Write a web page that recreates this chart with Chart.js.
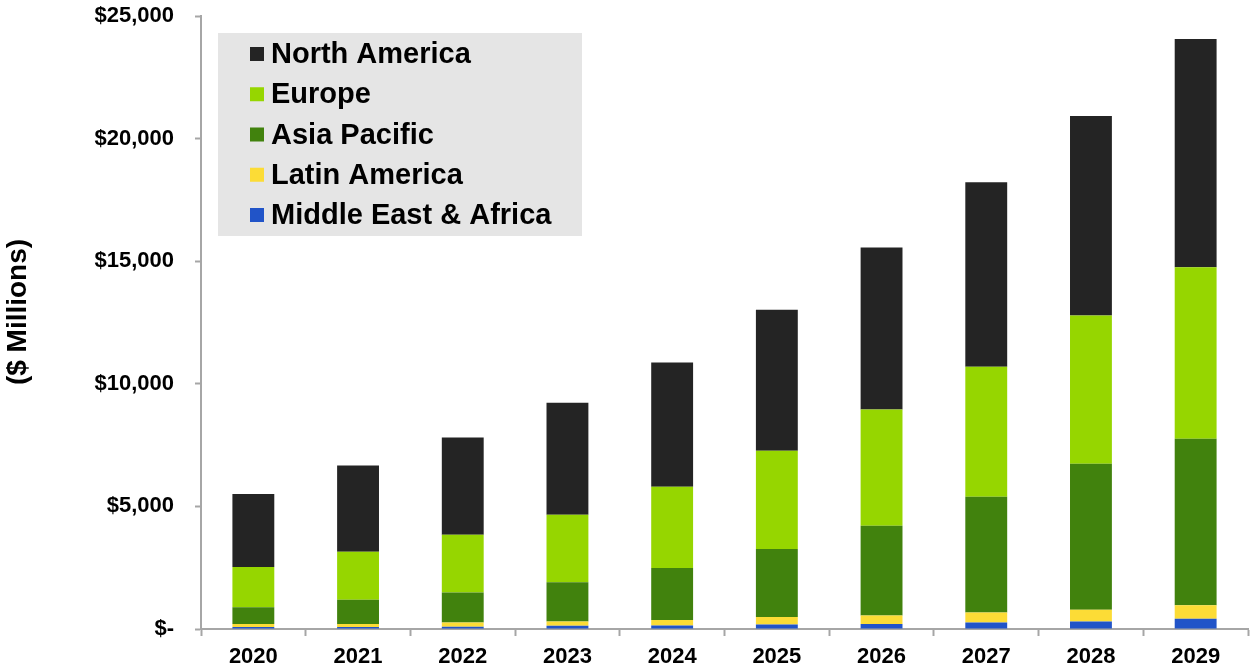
<!DOCTYPE html>
<html>
<head>
<meta charset="utf-8">
<script src="https://cdn.jsdelivr.net/npm/chart.js@4/dist/chart.umd.min.js"></script>
<style>
html,body{margin:0;padding:0;background:#fff;}
#wrap{width:1250px;height:669px;position:relative;}
</style>
</head>
<body>
<div id="wrap"><canvas id="c"></canvas></div>
<script>
const years = ['2020','2021','2022','2023','2024','2025','2026','2027','2028','2029'];
const middleEastAfrica = [80, 85, 95, 130, 140, 185, 200, 260, 310, 420];
const latinAmerica     = [120, 120, 170, 180, 230, 300, 350, 410, 480, 550];
const asiaPacific      = [685, 985, 1220, 1595, 2120, 2780, 3660, 4720, 5950, 6790];
const europe           = [1645, 1965, 2360, 2755, 3310, 4000, 4740, 5310, 6050, 6990];
const northAmerica     = [2980, 3510, 3960, 4570, 5070, 5760, 6610, 7520, 8130, 9310];
const yTicks = [0, 5000, 10000, 15000, 20000, 25000];
const yTitle = '($ Millions)';

const FONT = "'Liberation Sans', Arial, sans-serif";

const legendBox = {
  id: 'legendBox',
  afterDraw(chart) {
    const ctx = chart.ctx;
    const ca = chart.chartArea;
    const x0 = ca.left + 17, y0 = ca.top + 17, w = 364, h = 203;
    ctx.save();
    ctx.fillStyle = '#e5e5e5';
    ctx.fillRect(x0, y0, w, h);
    const ds = chart.data.datasets.slice().reverse();
    ctx.font = 'bold 29px ' + FONT;
    ctx.textBaseline = 'middle';
    ctx.textAlign = 'left';
    ds.forEach((d, i) => {
      const cy = y0 + 21 + i * 40.25;
      ctx.fillStyle = d.backgroundColor;
      ctx.fillRect(x0 + 32, cy - 7, 14, 14);
      ctx.fillStyle = '#000';
      ctx.fillText(d.label, x0 + 53, cy + 1);
    });
    // y axis title
    ctx.translate(18, 312);
    ctx.rotate(-Math.PI / 2);
    ctx.textAlign = 'center';
    ctx.font = 'bold 28px ' + FONT;
    ctx.fillText(yTitle, 0, 0);
    ctx.restore();
  }
};

new Chart(document.getElementById('c'), {
  type: 'bar',
  data: {
    labels: years,
    datasets: [
      { label: 'Middle East & Africa', data: middleEastAfrica, backgroundColor: '#2154c8' },
      { label: 'Latin America', data: latinAmerica, backgroundColor: '#fcdc36' },
      { label: 'Asia Pacific', data: asiaPacific, backgroundColor: '#41820d' },
      { label: 'Europe', data: europe, backgroundColor: '#96d600' },
      { label: 'North America', data: northAmerica, backgroundColor: '#242424' }
    ]
  },
  options: {
    responsive: true,
    maintainAspectRatio: false,
    animation: false,
    layout: { padding: { top: 16, right: 2, left: 0, bottom: 0 } },
    datasets: { bar: { categoryPercentage: 0.40, barPercentage: 1.0, borderWidth: 0 } },
    plugins: { legend: { display: false }, tooltip: { enabled: false } },
    scales: {
      x: {
        stacked: true,
        border: { color: '#a6a6a6', width: 2 },
        grid: { offset: true, drawOnChartArea: false, tickLength: 7, color: '#a6a6a6', tickWidth: 2 },
        ticks: { color: '#000', font: { family: FONT, size: 22, weight: 'bold' }, padding: 8, maxRotation: 0 },
        afterFit(s) { s.height = 40; s.paddingLeft = 0; s.paddingRight = 0; }
      },
      y: {
        stacked: true,
        min: 0, max: 25000,
        afterBuildTicks(s) { s.ticks = yTicks.map(v => ({ value: v })); },
        border: { color: '#a6a6a6', width: 2 },
        grid: { drawOnChartArea: false, tickLength: 6, color: '#a6a6a6', tickWidth: 2 },
        ticks: {
          color: '#000',
          font: { family: FONT, size: 22, weight: 'bold' },
          padding: 21,
          callback: v => v === 0 ? '$-' : '$' + v.toLocaleString('en-US')
        },
        afterFit(s) { s.width = 201; s.paddingTop = 0; s.paddingBottom = 0; }
      }
    }
  },
  plugins: [legendBox]
});
</script>
</body>
</html>
